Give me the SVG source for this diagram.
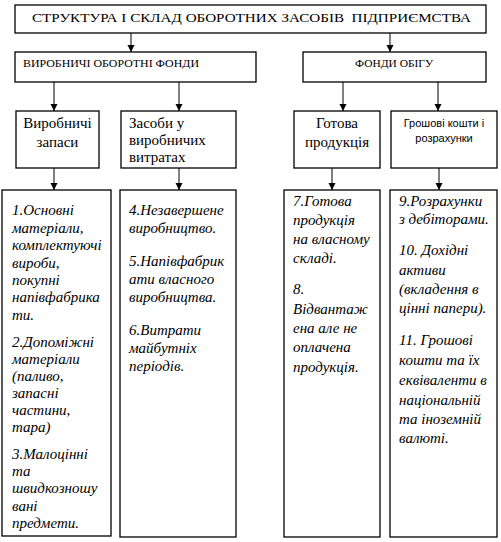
<svg xmlns="http://www.w3.org/2000/svg" width="501" height="542" viewBox="0 0 501 542">
<defs>
<marker id="ah" markerUnits="userSpaceOnUse" markerWidth="7" markerHeight="8" refX="7" refY="3.5" orient="auto">
<path d="M0,0 L7,3.5 L0,7 z" fill="#000"/>
</marker>
<style>
rect{fill:#fff;stroke:#000;stroke-width:1.3}
.c line{stroke:#000;stroke-width:1;marker-end:url(#ah)}
.t{font-family:"Liberation Serif","Times New Roman",serif;fill:#000}
.s{font-family:"Liberation Sans",Arial,sans-serif;fill:#000}
.it{font-family:"Liberation Serif","Times New Roman",serif;font-style:italic;font-size:15px;fill:#000}
</style>
</defs>
<rect width="501" height="542" style="fill:#fff;stroke:none"/>
<g class="c" id="connectors">
<line x1="131" y1="33" x2="131" y2="52"/>
<line x1="390" y1="33" x2="390" y2="52"/>
<line x1="54" y1="82" x2="54" y2="111"/>
<line x1="179" y1="82" x2="179" y2="111"/>
<line x1="343" y1="82" x2="343" y2="111"/>
<line x1="438" y1="82" x2="438" y2="111"/>
<line x1="54" y1="168" x2="54" y2="190"/>
<line x1="179" y1="168" x2="179" y2="190"/>
<line x1="332" y1="168" x2="332" y2="190"/>
<line x1="439" y1="168" x2="439" y2="190"/>
</g>
<g id="title">
<rect x="15" y="5" width="471" height="28"/>
<text class="t" x="32" y="22" font-size="13" textLength="439" lengthAdjust="spacingAndGlyphs" xml:space="preserve">СТРУКТУРА І СКЛАД ОБОРОТНИХ ЗАСОБІВ  ПІДПРИЄМСТВА</text>
</g>
<g id="vof">
<rect x="15" y="52" width="241" height="30"/>
<text class="t" x="23" y="67" font-size="11" textLength="176" lengthAdjust="spacingAndGlyphs">ВИРОБНИЧІ ОБОРОТНІ ФОНДИ</text>
</g>
<g id="fo">
<rect x="303" y="52" width="183" height="30"/>
<text class="t" x="355" y="67" font-size="11" textLength="78" lengthAdjust="spacingAndGlyphs">ФОНДИ ОБІГУ</text>
</g>
<g id="vz">
<rect x="16" y="111" width="83" height="57"/>
<text class="t" font-size="15" text-anchor="middle"><tspan x="57.5" y="128">Виробничі</tspan><tspan x="57.5" y="147">запаси</tspan></text>
</g>
<g id="zvv">
<rect x="121" y="111" width="115" height="57"/>
<text class="t" font-size="15"><tspan x="129" y="128">Засоби у</tspan><tspan x="129" y="145">виробничих</tspan><tspan x="129" y="162">витратах</tspan></text>
</g>
<g id="gp">
<rect x="294" y="111" width="86" height="57"/>
<text class="t" font-size="15" text-anchor="middle"><tspan x="337" y="128">Готова</tspan><tspan x="337" y="147">продукція</tspan></text>
</g>
<g id="gkr">
<rect x="391" y="111" width="106" height="57"/>
<text class="s" font-size="11" text-anchor="middle"><tspan x="444" y="127">Грошові кошти і</tspan><tspan x="444" y="142">розрахунки</tspan></text>
</g>
<g id="b1">
<rect x="2" y="190" width="109" height="346"/>
<text class="it"><tspan x="12" y="215">1.Основні</tspan><tspan x="12" y="232.5">матеріали,</tspan><tspan x="12" y="250">комплектуючі</tspan><tspan x="12" y="267.5">вироби,</tspan><tspan x="12" y="285">покупні</tspan><tspan x="12" y="302">напівфабрика</tspan><tspan x="12" y="319.5">ти.</tspan><tspan x="12" y="347">2.Допоміжні</tspan><tspan x="12" y="364">матеріали</tspan><tspan x="12" y="381">(паливо,</tspan><tspan x="12" y="398">запасні</tspan><tspan x="12" y="415">частини,</tspan><tspan x="12" y="432">тара)</tspan><tspan x="12" y="459">3.Малоцінні</tspan><tspan x="12" y="476">та</tspan><tspan x="12" y="493">швидкозношу</tspan><tspan x="12" y="511">вані</tspan><tspan x="12" y="528">предмети.</tspan></text>
</g>
<g id="b2">
<rect x="120" y="190" width="116" height="347"/>
<text class="it"><tspan x="129" y="215">4.Незавершене</tspan><tspan x="129" y="233">виробництво.</tspan><tspan x="129" y="266">5.Напівфабрик</tspan><tspan x="129" y="284">ати власного</tspan><tspan x="129" y="302">виробництва.</tspan><tspan x="129" y="335">6.Витрати</tspan><tspan x="129" y="353">майбутніх</tspan><tspan x="129" y="371">періодів.</tspan></text>
</g>
<g id="b3">
<rect x="284" y="190" width="96" height="347"/>
<text class="it"><tspan x="293" y="206">7.Готова</tspan><tspan x="293" y="225">продукція</tspan><tspan x="293" y="244">на власному</tspan><tspan x="293" y="263">складі.</tspan><tspan x="293" y="294">8.</tspan><tspan x="293" y="314">Відвантаж</tspan><tspan x="293" y="333">ена але не</tspan><tspan x="293" y="352">оплачена</tspan><tspan x="293" y="372">продукція.</tspan></text>
</g>
<g id="b4">
<rect x="390" y="190" width="107" height="347"/>
<text class="it"><tspan x="399" y="206">9.Розрахунки</tspan><tspan x="399" y="224">з дебіторами.</tspan><tspan x="399" y="255">10. Дохідні</tspan><tspan x="399" y="275">активи</tspan><tspan x="399" y="294">(вкладення в</tspan><tspan x="399" y="313">цінні папери).</tspan><tspan x="399" y="345">11. Грошові</tspan><tspan x="399" y="365">кошти та їх</tspan><tspan x="399" y="385">еквіваленти в</tspan><tspan x="399" y="405">національній</tspan><tspan x="399" y="424">та іноземній</tspan><tspan x="399" y="443">валюті.</tspan></text>
</g>
</svg>
